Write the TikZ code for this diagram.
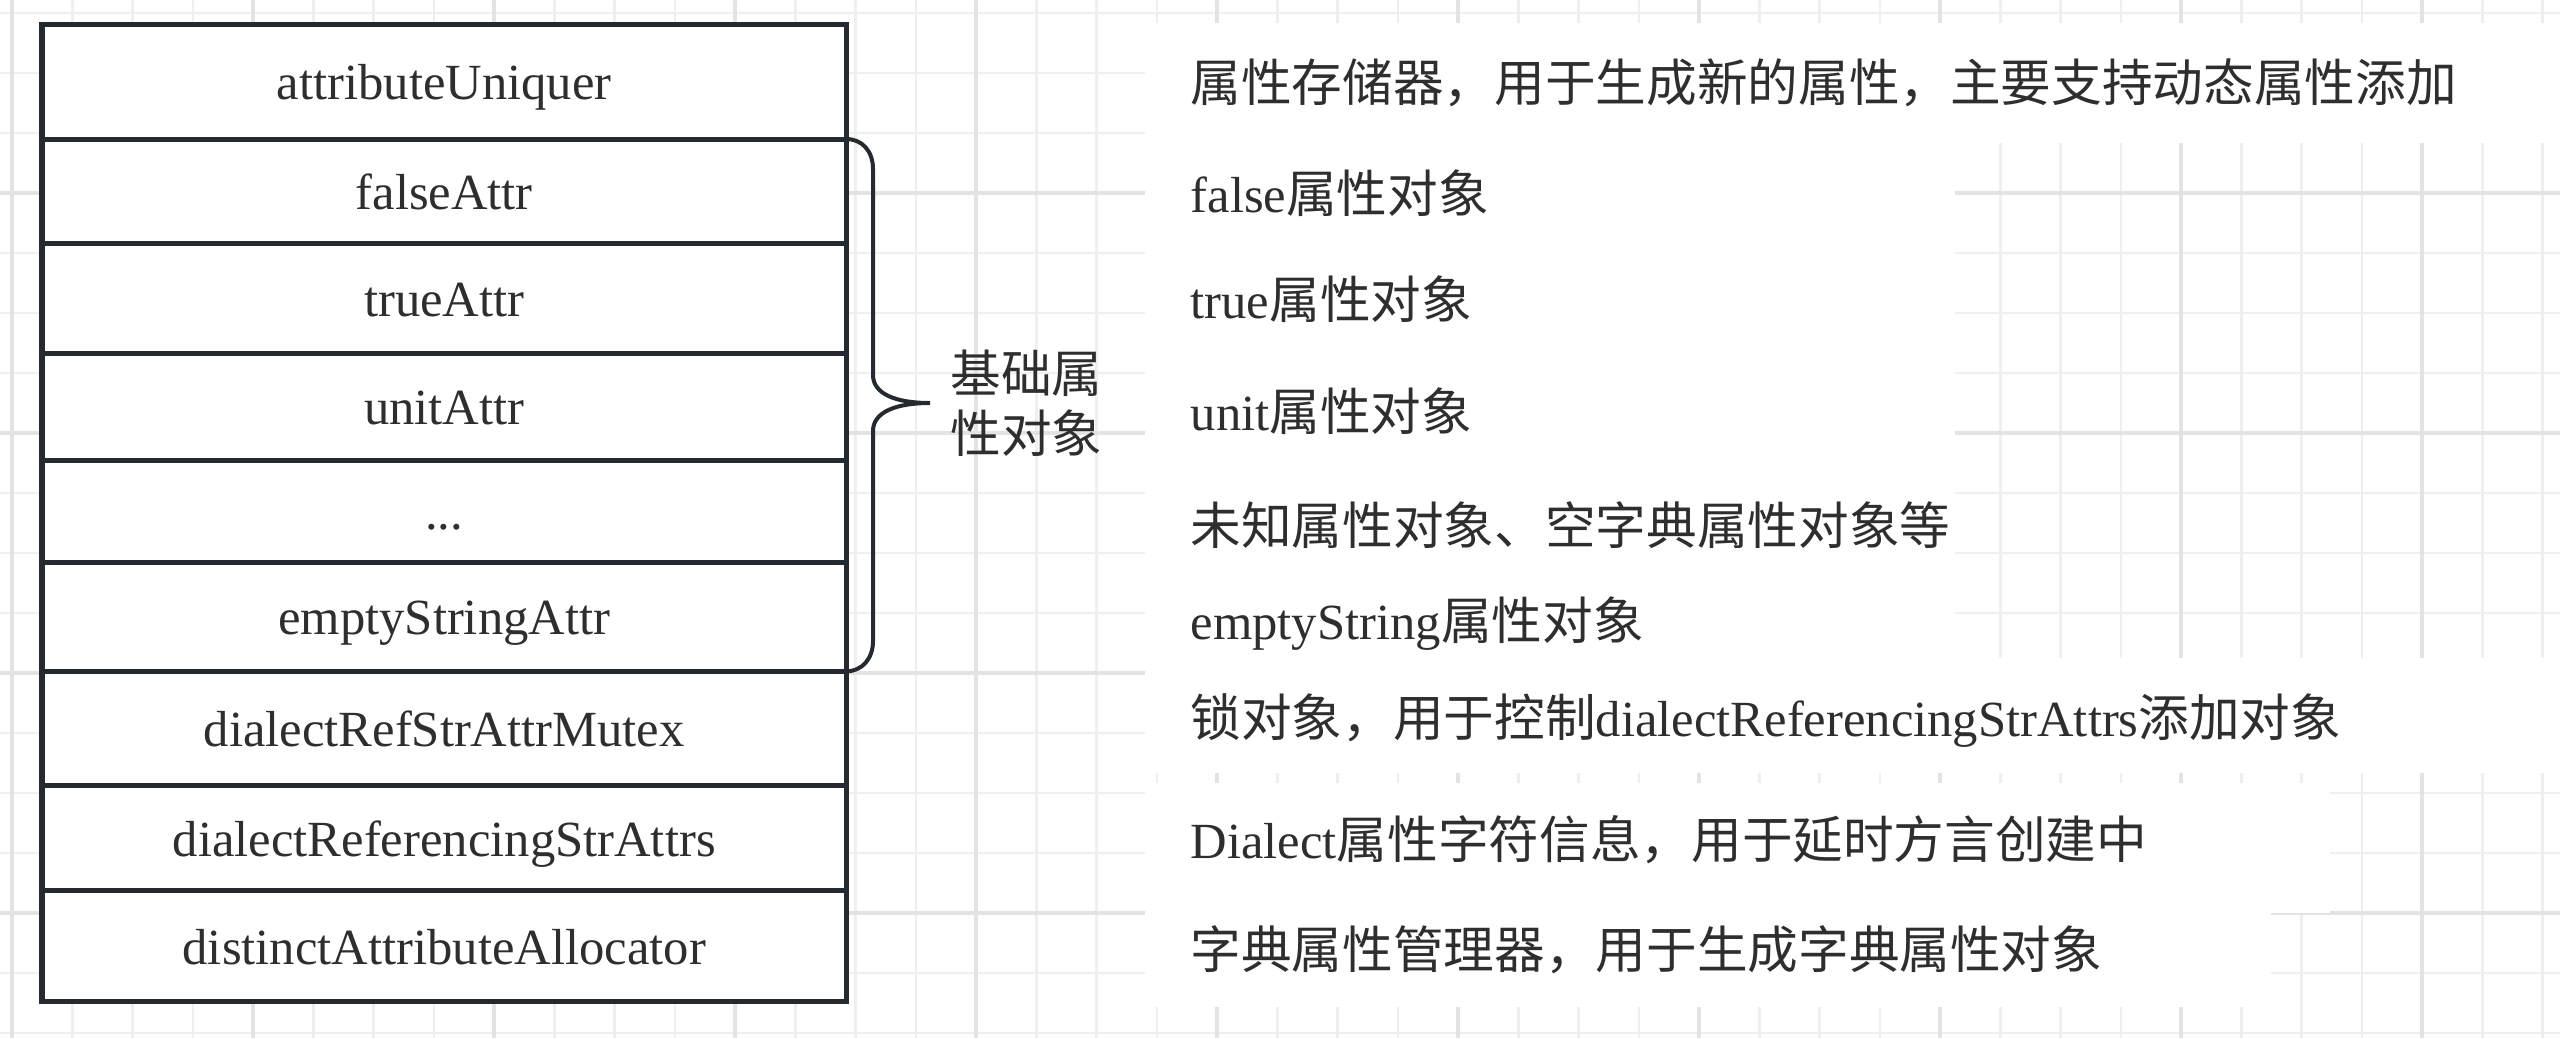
\documentclass[tikz,border=0pt]{standalone}
\usepackage{fontspec}
\setmainfont{Liberation Serif}
\newfontfamily\cjkfont{Noto Sans CJK SC}
\usetikzlibrary{positioning}
\newcommand{\zh}[1]{{\cjkfont #1}}
\definecolor{gridminor}{HTML}{EFEFEF}
\definecolor{gridmajor}{HTML}{E3E3E3}
\definecolor{tblline}{HTML}{252A30}
\definecolor{txtgray}{HTML}{2E2E2E}

\begin{document}
\begin{tikzpicture}[x=0.01cm, y=-0.01cm,
  cell/.style={draw=tblline, fill=white, line width=0.05cm,
               minimum width=8.04cm, minimum height=#1,
               inner sep=0pt, outer sep=0pt,
               text height=0.46cm, text depth=0.10cm,
               font=\fontsize{14.4pt}{17.1pt}\selectfont, text=txtgray},
  desc/.style={anchor=base west, inner sep=0pt,
               font=\fontsize{14.4pt}{17.1pt}\selectfont, text=txtgray},
  lbl/.style={anchor=west, inner sep=0pt, align=left,
              font=\cjkfont\fontsize{14.4pt}{17.1pt}\selectfont, text=txtgray},
  gline/.style={draw=gridminor, line width=0.025cm},
  gmajor/.style={draw=gridmajor, line width=0.035cm},
  mask/.style={fill=white},
  brace/.style={draw=tblline, line width=0.04cm},
]
\useasboundingbox (0,0) rectangle (2560,1038);
\fill[white] (0,0) rectangle (2560,1038);

% background grid
\foreach \k in {0,...,42}
  \draw[gline] ({12+60.25*\k},0) -- ++(0,1038);
\foreach \k in {0,...,17}
  \draw[gline] (0,{13+60*\k}) -- ++(2560,0);
\foreach \k in {0,4,...,40}
  \draw[gmajor] ({12+60.25*\k},0) -- ++(0,1038);
\foreach \k in {3,7,11,15}
  \draw[gmajor] (0,{13+60*\k}) -- ++(2560,0);

% white areas behind the notes
\fill[mask] (1145,23) rectangle (2560,143);
\fill[mask] (1145,143) rectangle (1955,658);
\fill[mask] (1145,658) rectangle (2560,773);
\fill[mask] (1145,783) rectangle (2330,913);
\fill[mask] (1145,913) rectangle (2271,1007);

% table
\node[cell=1.15cm, anchor=north west] (au) at (42,24) {attributeUniquer};
\node[cell=1.04cm, below=0pt of au] (fa) {falseAttr};
\node[cell=1.10cm, below=0pt of fa] (ta) {trueAttr};
\node[cell=1.07cm, below=0pt of ta] (ua) {unitAttr};
\node[cell=1.02cm, below=0pt of ua] (etc) {...};
\node[cell=1.09cm, below=0pt of etc] (ea) {emptyStringAttr};
\node[cell=1.14cm, below=0pt of ea] (mx) {dialectRefStrAttrMutex};
\node[cell=1.05cm, below=0pt of mx] (rs) {dialectReferencingStrAttrs};
\node[cell=1.11cm, below=0pt of rs] (al) {distinctAttributeAllocator};

% brace over the basic attributes
\coordinate (bt) at (930,403);
\draw[brace] (fa.north east) .. controls (862,139) and (873,151) .. (873,169)
  -- (873,375) .. controls (873,394) and (896,403) .. (bt)
  .. controls (896,403) and (873,412) .. (873,431)
  -- (873,641) .. controls (873,659) and (862,671) .. (ea.south east);
\node[lbl] (bl) at (950,403) {基础属\\性对象};

% notes
\node[desc] (d1) at (1190,101) {\zh{属性存储器，用于生成新的属性，主要支持动态属性添加}};
\node[desc] (d2) at (1190,212) {false\zh{属性对象}};
\node[desc] (d3) at (1190,318) {true\zh{属性对象}};
\node[desc] (d4) at (1190,430) {unit\zh{属性对象}};
\node[desc] (d5) at (1190,544) {\zh{未知属性对象、空字典属性对象等}};
\node[desc] (d6) at (1190,639) {emptyString\zh{属性对象}};
\node[desc] (d7) at (1190,736) {\zh{锁对象，用于控制}dialectReferencingStrAttrs\zh{添加对象}};
\node[desc] (d8) at (1190,858) {Dialect\zh{属性字符信息，用于延时方言创建中}};
\node[desc] (d9) at (1190,968) {\zh{字典属性管理器，用于生成字典属性对象}};
\end{tikzpicture}
\end{document}
